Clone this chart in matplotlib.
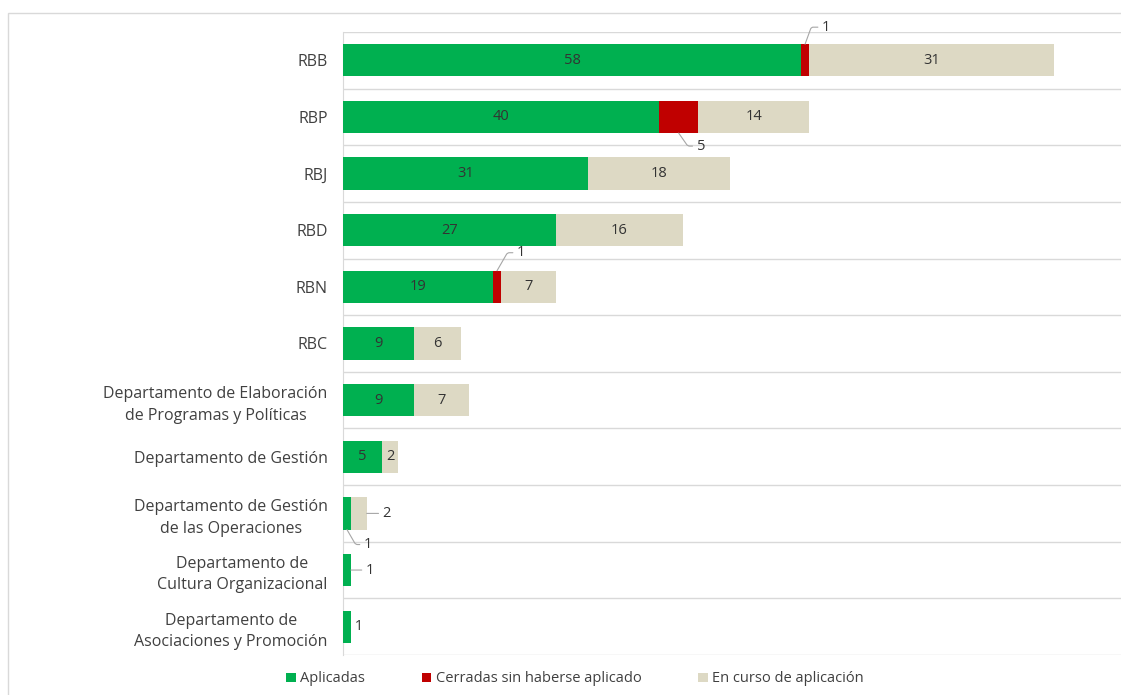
import matplotlib.pyplot as plt
import numpy as np
from matplotlib.patches import Rectangle

plt.rcParams['font.family'] = ['Open Sans', 'DejaVu Sans']

categories = ['RBB', 'RBP', 'RBJ', 'RBD', 'RBN', 'RBC',
              'Departamento de Elaboración\nde Programas y Políticas',
              'Departamento de Gestión',
              'Departamento de Gestión\nde las Operaciones',
              'Departamento de\nCultura Organizacional',
              'Departamento de\nAsociaciones y Promoción']
aplicadas = [58, 40, 31, 27, 19, 9, 9, 5, 1, 1, 1]
cerradas = [1, 5, 0, 0, 1, 0, 0, 0, 0, 0, 0]
en_curso = [31, 14, 18, 16, 7, 6, 7, 2, 2, 0, 0]
series = ['Aplicadas', 'Cerradas sin haberse aplicado', 'En curso de aplicación']
colors = ['#00B050', '#C00000', '#DDD9C4']

TXT = '#404040'
GRID = '#d9d9d9'

fig = plt.figure(figsize=(11.21, 6.95), dpi=100)
fig.patches.append(Rectangle((8 / 1121, -0.1), 1.2, 1.1 - 13 / 695,
                             transform=fig.transFigure, fill=False,
                             edgecolor=GRID, lw=1))
ax = fig.add_axes([343 / 1121, 1 - 655 / 695, 1 - 343 / 1121, (655 - 32) / 695])

y = np.arange(len(categories))
h = 0.57
left = np.zeros(len(categories))
bars = []
for vals, col, name in zip([aplicadas, cerradas, en_curso], colors, series):
    b = ax.barh(y, vals, left=left, height=h, color=col, label=name, zorder=3)
    bars.append(b)
    left = left + np.array(vals)

ax.set_xlim(0, 98.5)
ax.set_ylim(len(categories) - 0.5, -0.5)
ax.set_yticks(y)
ax.set_yticklabels(categories, fontsize=11.5, color=TXT, linespacing=1.45)
for lab in ax.get_yticklabels():
    lab.set_multialignment('center')
ax.tick_params(axis='y', length=0, pad=11)
ax.set_xticks([])
for s in ['top', 'right', 'bottom']:
    ax.spines[s].set_visible(False)
ax.spines['left'].set_color(GRID)
for k in range(len(categories) + 1):
    ax.axhline(k - 0.5, color=GRID, lw=1, zorder=1)

# labels inside segments
all_vals = [aplicadas, cerradas, en_curso]
small = {(1, 0), (1, 1), (1, 4), (0, 8), (2, 8), (0, 9), (0, 10)}
for si, vals in enumerate(all_vals):
    lefts = np.zeros(len(categories))
    for j in range(si):
        lefts = lefts + np.array(all_vals[j])
    for i, v in enumerate(vals):
        if v == 0 or (si, i) in small:
            continue
        ax.text(lefts[i] + v / 2, i, str(v), ha='center', va='center',
                fontsize=10.5, color='#333333', zorder=4)

lead = dict(arrowstyle='-', color='#a6a6a6', lw=0.8, shrinkA=1, shrinkB=0)

def callout(x, yy, txt, dx, dy, ang=None):
    if ang is None:
        cs = 'arc3'
    else:
        cs = 'angle,angleA=0,angleB=%d,rad=2' % ang
    ax.annotate(txt, xy=(x, yy), xytext=(dx, dy), textcoords='offset pixels',
                ha='left', va='center', fontsize=10.5, color='#333333',
                arrowprops=dict(lead, connectionstyle=cs),
                annotation_clip=False)

callout(aplicadas[0] + cerradas[0] / 2, -h / 2, str(cerradas[0]), 17, 17, 70)
callout(aplicadas[1] + cerradas[1] / 2, 1 + h / 2, str(cerradas[1]), 18, -13, -55)
callout(aplicadas[4] + cerradas[4] / 2, 4 - h / 2, str(cerradas[4]), 20, 18, 60)
callout(aplicadas[8] / 2, 8 + h / 2, str(aplicadas[8]), 17, -15, -60)
callout(aplicadas[8] + en_curso[8], 8, str(en_curso[8]), 16, 0)
callout(aplicadas[9], 9, str(aplicadas[9]), 15, 0)
ax.text(aplicadas[10], 10, ' ' + str(aplicadas[10]), ha='left', va='center',
        fontsize=10.5, color='#333333')

fig.legend(handles=bars, labels=series, loc='center', ncol=3, frameon=False,
           bbox_to_anchor=(0.513, 1 - 679 / 695), fontsize=10.5,
           handlelength=0.65, handleheight=0.65, handletextpad=0.3,
           columnspacing=3.9, labelcolor=TXT)

fig.savefig('out.png', dpi=100)
